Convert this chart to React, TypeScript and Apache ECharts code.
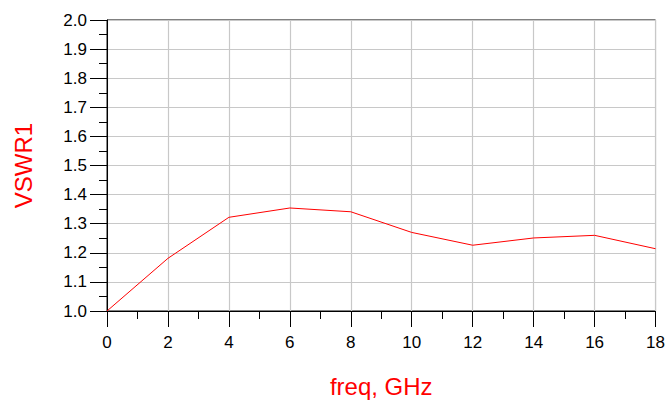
import React, { useEffect, useRef } from "react";
import * as echarts from "echarts";

const freq = [0, 2, 4, 6, 8, 10, 12, 14, 16, 18];
const vswr = [1.0, 1.181, 1.322, 1.354, 1.341, 1.27, 1.226, 1.251, 1.26, 1.214];
const xTicks = [0, 2, 4, 6, 8, 10, 12, 14, 16, 18];
const yTicks = [1.0, 1.1, 1.2, 1.3, 1.4, 1.5, 1.6, 1.7, 1.8, 1.9, 2.0];

export default function App() {
  const ref = useRef<HTMLDivElement>(null);
  useEffect(() => {
    if (!ref.current) return;
    const chart = echarts.init(ref.current, null, { renderer: "svg" });
    const font = "Liberation Sans, Arial, sans-serif";
    chart.setOption({
      animation: false,
      backgroundColor: "#ffffff",
      grid: {
        left: 107,
        right: 12,
        top: 20,
        bottom: 87,
        show: true,
        borderColor: "#000000",
        borderWidth: 1,
      },
      xAxis: {
        type: "value",
        min: xTicks[0],
        max: xTicks[xTicks.length - 1],
        interval: 2,
        name: "freq, GHz",
        nameLocation: "middle",
        nameGap: 63,
        nameTextStyle: { color: "#ff0000", fontSize: 24, fontFamily: font },
        axisLine: { show: true, lineStyle: { color: "#000000", width: 1 } },
        axisTick: { show: true, length: 16, lineStyle: { color: "#000000", width: 1 } },
        minorTick: { show: true, splitNumber: 2, length: 8, lineStyle: { color: "#000000", width: 1 } },
        axisLabel: { color: "#000000", fontSize: 17, fontFamily: font, margin: 23 },
        splitLine: { show: true, lineStyle: { color: "#c8c8c8", width: 1.2 } },
      },
      yAxis: {
        type: "value",
        min: yTicks[0],
        max: yTicks[yTicks.length - 1],
        interval: 0.1,
        name: "VSWR1",
        nameLocation: "middle",
        nameGap: 72,
        nameTextStyle: { color: "#ff0000", fontSize: 24, fontFamily: font },
        axisLine: { show: true, lineStyle: { color: "#000000", width: 1 } },
        axisTick: { show: true, length: 17, lineStyle: { color: "#000000", width: 1 } },
        minorTick: { show: true, splitNumber: 2, length: 8, lineStyle: { color: "#000000", width: 1 } },
        axisLabel: {
          color: "#000000",
          fontSize: 17,
          fontFamily: font,
          margin: 20,
          formatter: (v: number) => v.toFixed(1),
        },
        splitLine: { show: true, lineStyle: { color: "#c8c8c8", width: 1.2 } },
      },
      series: [
        {
          type: "line",
          data: freq.map((f, i) => [f, vswr[i]]),
          symbol: "none",
          lineStyle: { color: "#ff0000", width: 1 },
        },
      ],
    });
    return () => chart.dispose();
  }, []);
  return (
    <div
      ref={ref}
      style={{ position: "fixed", left: 0, top: 0, width: 668, height: 403 }}
    />
  );
}
